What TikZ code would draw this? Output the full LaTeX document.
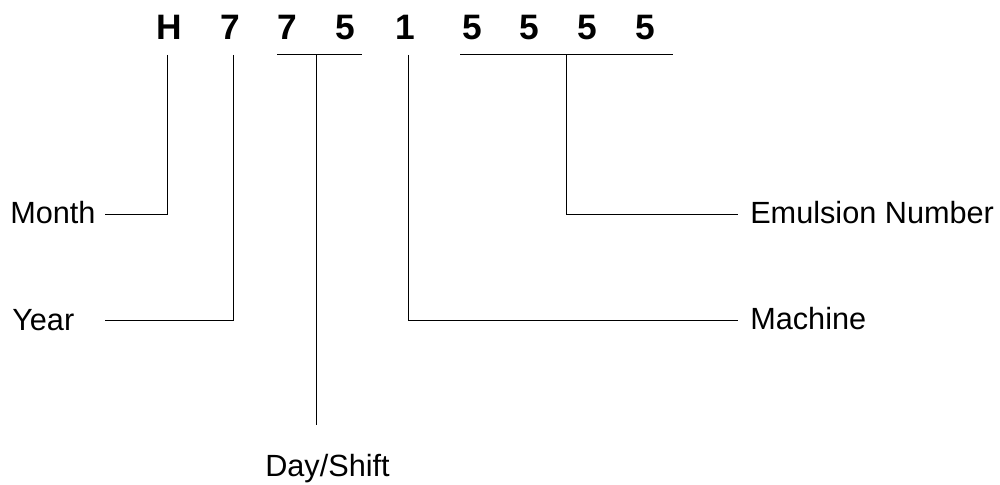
\documentclass[tikz,border=0pt]{standalone}
\usepackage{fontspec}
\setmainfont{Liberation Sans}
\begin{document}
\begin{tikzpicture}[x=0.75pt,y=-0.75pt,
  digit/.style={inner sep=0pt,anchor=base,font=\fontsize{26.5}{30}\selectfont\bfseries},
  lbl/.style={inner sep=0pt,anchor=base west,font=\fontsize{23}{27}\selectfont},
  conn/.style={line width=0.75pt,draw=black}]
\useasboundingbox (0,0) rectangle (1000,485);
% code characters
\node[digit] (dH) at (169,40) {H};
\node[digit] (dY) at (230,40) {7};
\node[digit] (dD1) at (287,40) {7};
\node[digit] (dD2) at (345,40) {5};
\node[digit] (dM) at (405,40) {1};
\node[digit] (dE1) at (472,40) {5};
\node[digit] (dE2) at (529,40) {5};
\node[digit] (dE3) at (587,40) {5};
\node[digit] (dE4) at (645,40) {5};
% labels
\node[lbl] (month) at (10,223.5) {Month};
\node[lbl] (year) at (12,330) {Year};
\node[lbl] (day) at (265,476) {Day/Shift};
\node[lbl] (machine) at (750,329) {Machine};
\node[lbl] (emul) at (750,223.5) {Emulsion Number};
% connector points
\coordinate (tH) at (167,55);
\coordinate (tY) at (233,55);
\coordinate (tM) at (408,55);
\coordinate (bDl) at (277,55);
\coordinate (bDr) at (362,55);
\coordinate (tD) at (316,55);
\coordinate (bEl) at (460,55);
\coordinate (bEr) at (673,55);
\coordinate (tE) at (566,55);
\coordinate (eMonth) at (105,214);
\coordinate (eYear) at (105,320);
\coordinate (eDay) at (316,425);
\coordinate (eMach) at (738,320);
\coordinate (eEmul) at (738,214);
% connectors
\draw[conn] (tH) |- (eMonth);
\draw[conn] (tY) |- (eYear);
\draw[conn] (bDl) -- (bDr);
\draw[conn] (tD) -- (eDay);
\draw[conn] (tM) |- (eMach);
\draw[conn] (bEl) -- (bEr);
\draw[conn] (tE) |- (eEmul);
\end{tikzpicture}
\end{document}
